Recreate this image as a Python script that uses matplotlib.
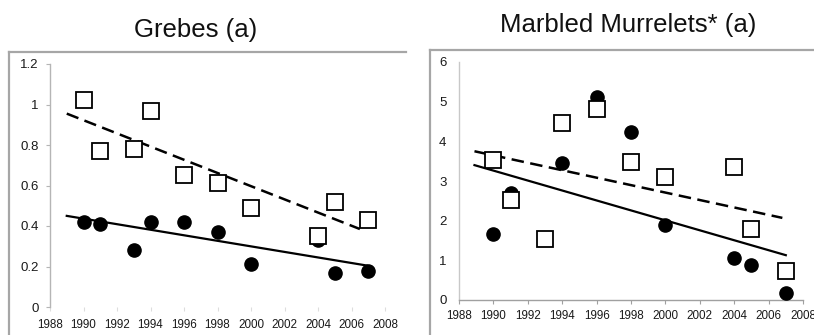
import numpy as np
import matplotlib
matplotlib.use("Agg")
import matplotlib.pyplot as plt
from matplotlib.lines import Line2D

plt.rcParams['font.family'] = ['Liberation Sans', 'DejaVu Sans']

# ---- data ----
years = [1990, 1991, 1993, 1994, 1996, 1998, 2000, 2004, 2005, 2007]

grebe_squares = [1.02, 0.77, 0.78, 0.97, 0.65, 0.61, 0.49, 0.35, 0.52, 0.43]
grebe_circles = [0.42, 0.41, 0.28, 0.42, 0.42, 0.37, 0.21, 0.33, 0.17, 0.18]
grebe_dash_x = [1989.0, 2006.5]
grebe_dash_y = [0.955, 0.385]
grebe_solid_x = [1989.0, 2006.9]
grebe_solid_y = [0.45, 0.205]

murre_squares = [3.52, 2.52, 1.53, 4.46, 4.82, 3.48, 3.09, 3.36, 1.79, 0.73]
murre_circles = [1.66, 2.70, np.nan, 3.46, 5.13, 4.24, 1.89, 1.07, 0.87, 0.18]
murre_dash_x = [1988.9, 2006.8]
murre_dash_y = [3.75, 2.07]
murre_solid_x = [1988.9, 2007.0]
murre_solid_y = [3.40, 1.13]

xticks = list(range(1988, 2009, 2))
grebe_yticks = [0, 0.2, 0.4, 0.6, 0.8, 1.0, 1.2]
grebe_ylabels = ['0', '0.2', '0.4', '0.6', '0.8', '1', '1.2']
murre_yticks = [0, 1, 2, 3, 4, 5, 6]

titles = ['Grebes (a)', 'Marbled Murrelets* (a)']

W, H = 814, 335
fig = plt.figure(figsize=(W / 100, H / 100), dpi=100)

def fx(px):
    return px / W

def fy(py):
    return 1 - py / H

# panel frames
frame_col = '#a6a6a6'
fig.add_artist(Line2D([fx(9), fx(9)], [fy(52), 0], color=frame_col, lw=1.6, transform=fig.transFigure))
fig.add_artist(Line2D([fx(9), fx(406)], [fy(52), fy(52)], color=frame_col, lw=1.6, transform=fig.transFigure))
fig.add_artist(Line2D([fx(430), fx(430)], [fy(50), 0], color=frame_col, lw=1.6, transform=fig.transFigure))
fig.add_artist(Line2D([fx(430), 1], [fy(50), fy(50)], color=frame_col, lw=1.6, transform=fig.transFigure))

# titles
fig.text(fx(196), fy(37), titles[0], ha='center', va='baseline', fontsize=18.5, color='#111111')
fig.text(fx(628), fy(32), titles[1], ha='center', va='baseline', fontsize=18.5, color='#111111')

sq_kw = dict(marker='s', markersize=11, markerfacecolor='white', markeredgecolor='black',
             markeredgewidth=1.3, linestyle='none', zorder=4)
ci_kw = dict(marker='o', markersize=9.5, markerfacecolor='black', markeredgecolor='black',
             linestyle='none', zorder=3)
dash_style = (0, (5, 2.6))

# ---- left panel ----
ax1 = fig.add_axes([fx(50), fy(307), fx(385) - fx(50), fy(64) - fy(307)])
ax1.plot(grebe_dash_x, grebe_dash_y, color='black', lw=1.8, linestyle=dash_style, zorder=2)
ax1.plot(grebe_solid_x, grebe_solid_y, color='black', lw=1.6, zorder=2)
ax1.plot(years, grebe_circles, **ci_kw)
ax1.plot(years, grebe_squares, **sq_kw)
ax1.set_xlim(1988, 2008)
ax1.set_ylim(0, 1.2)
ax1.set_xticks(xticks)
ax1.set_xticklabels([str(t) for t in xticks])
ax1.set_yticks(grebe_yticks)
ax1.set_yticklabels(grebe_ylabels)
for s in ['top', 'right', 'bottom']:
    ax1.spines[s].set_visible(False)
ax1.spines['left'].set_color('#b5b5b5')
ax1.spines['left'].set_linewidth(1.0)
ax1.tick_params(axis='y', length=3, width=0.8, color='#b5b5b5', pad=5, labelsize=9.5, labelcolor='#1a1a1a')
ax1.tick_params(axis='x', length=3, width=0.8, color='#dddddd', pad=5.5, labelsize=8.4, labelcolor='#1a1a1a')
ax1.set_facecolor('none')

# ---- right panel ----
ax2 = fig.add_axes([fx(459), fy(300), fx(803) - fx(459), fy(62) - fy(300)])
ax2.plot(murre_dash_x, murre_dash_y, color='black', lw=1.8, linestyle=dash_style, zorder=2)
ax2.plot(murre_solid_x, murre_solid_y, color='black', lw=1.6, zorder=2)
ax2.plot(years, murre_circles, **ci_kw)
ax2.plot(years, murre_squares, **sq_kw)
ax2.set_xlim(1988, 2008)
ax2.set_ylim(0, 6)
ax2.set_xticks(xticks)
ax2.set_xticklabels([str(t) for t in xticks])
ax2.set_yticks(murre_yticks)
ax2.set_yticklabels([str(t) for t in murre_yticks])
for s in ['top', 'right']:
    ax2.spines[s].set_visible(False)
ax2.spines['left'].set_color('#c8c8c8')
ax2.spines['left'].set_linewidth(1.0)
ax2.spines['bottom'].set_color('#a0a0a0')
ax2.spines['bottom'].set_linewidth(1.0)
ax2.tick_params(axis='y', length=0, pad=9, labelsize=9.5, labelcolor='#1a1a1a')
ax2.tick_params(axis='x', length=3, width=0.8, color='#a0a0a0', pad=4, labelsize=8.4, labelcolor='#1a1a1a')
ax2.set_facecolor('none')

fig.savefig('out.png', dpi=100)
